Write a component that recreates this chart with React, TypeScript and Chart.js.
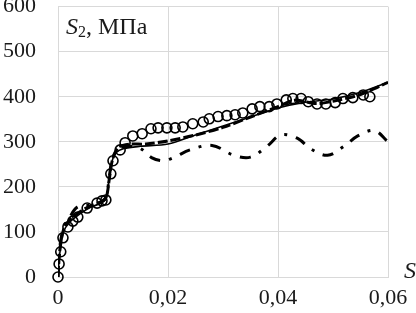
import { useEffect, useRef } from 'react';
import { Chart, registerables } from 'chart.js';

Chart.register(...registerables);

const xTicks = [0, 0.02, 0.04, 0.06];
const yTicks = [0, 100, 200, 300, 400, 500, 600];

// Experimental points (open circles)
const circleStrain = [0.0, 0.0002, 0.0005, 0.0009, 0.0018, 0.0027, 0.0036, 0.0053, 0.0071, 0.008, 0.0087, 0.0096, 0.0100, 0.0113, 0.0122, 0.0136, 0.0153, 0.0169, 0.0182, 0.0198, 0.0213, 0.0227, 0.0245, 0.0264, 0.0275, 0.0291, 0.0307, 0.0322, 0.0336, 0.0353, 0.0367, 0.0384, 0.0398, 0.0415, 0.0427, 0.0442, 0.0455, 0.0471, 0.0487, 0.0504, 0.0518, 0.0536, 0.0555, 0.0567];
const circleStress = [0, 29, 56, 87, 111, 124, 133, 153, 164, 169, 171, 229, 258, 282, 298, 313, 318, 329, 331, 331, 331, 333, 340, 344, 351, 356, 358, 360, 364, 373, 378, 378, 384, 393, 396, 396, 389, 384, 384, 387, 396, 398, 404, 400];

// Thin solid curve
const solidStrain = [0, 0.0003, 0.001, 0.002, 0.004, 0.006, 0.008, 0.0088, 0.0092, 0.0098, 0.0105, 0.012, 0.015, 0.02, 0.025, 0.03, 0.035, 0.04, 0.045, 0.05, 0.055, 0.06];
const solidStress = [0, 50, 100, 120, 140, 155, 165, 175, 210, 255, 275, 285, 290, 295, 315, 335, 355, 375, 388, 395, 410, 432];

// Bold dashed curve
const dashedStrain = [0, 0.0003, 0.001, 0.002, 0.004, 0.006, 0.008, 0.0088, 0.0093, 0.0099, 0.011, 0.013, 0.016, 0.02, 0.025, 0.03, 0.035, 0.04, 0.043, 0.047, 0.05, 0.055, 0.06];
const dashedStress = [0, 55, 105, 125, 145, 158, 167, 178, 215, 260, 288, 295, 295, 302, 315, 332, 355, 378, 392, 385, 390, 405, 432];

// Dash-dot curve
const dashDotStrain = [0, 0.0003, 0.001, 0.002, 0.0035, 0.006, 0.008, 0.0088, 0.0093, 0.0099, 0.011, 0.013, 0.015, 0.017, 0.019, 0.021, 0.024, 0.028, 0.032, 0.035, 0.038, 0.0405, 0.0435, 0.046, 0.049, 0.052, 0.0545, 0.0575, 0.06];
const dashDotStress = [0, 60, 110, 130, 155, 160, 168, 180, 220, 262, 285, 290, 285, 265, 258, 265, 282, 292, 270, 266, 290, 315, 308, 284, 270, 290, 313, 325, 300];

const toPoints = (xs: number[], ys: number[]) => xs.map((x, i) => ({ x, y: ys[i] }));

const fmtX = (v: number) => (v === 0 ? '0' : v.toFixed(2).replace('.', ','));

const FONT = '"Liberation Serif", "Times New Roman", serif';
const TEXT = '#1a1a1a';
const GRID = '#d9d9d9';

const titlePlugin = {
  id: 'titles',
  afterDraw(chart: any) {
    const { ctx, chartArea } = chart;
    ctx.save();
    ctx.fillStyle = TEXT;
    ctx.textBaseline = 'alphabetic';
    ctx.textAlign = 'left';
    let x = chartArea.left + 8;
    const y = chartArea.top + 27;
    ctx.font = `italic 24px ${FONT}`;
    ctx.fillText('S', x, y);
    x += ctx.measureText('S').width;
    ctx.font = `16px ${FONT}`;
    ctx.fillText('2', x, y + 3);
    x += ctx.measureText('2').width;
    ctx.font = `24px ${FONT}`;
    ctx.fillText(', МПа', x, y);
    ctx.font = `italic 24px ${FONT}`;
    ctx.fillText('S', chartArea.right + 16, chartArea.bottom + 1);
    ctx.restore();
  },
};

export default function App() {
  const ref = useRef<HTMLCanvasElement | null>(null);
  useEffect(() => {
    if (!ref.current) return;
    const chart = new Chart(ref.current, {
      type: 'scatter',
      data: {
        datasets: [
          {
            label: 'solid',
            data: toPoints(solidStrain, solidStress),
            showLine: true,
            borderColor: '#000',
            borderWidth: 1.6,
            pointRadius: 0,
            tension: 0.3,
          },
          {
            label: 'dashed',
            data: toPoints(dashedStrain, dashedStress),
            showLine: true,
            borderColor: '#000',
            borderWidth: 3,
            borderDash: [10, 3],
            pointRadius: 0,
            tension: 0.3,
          },
          {
            label: 'dashdot',
            data: toPoints(dashDotStrain, dashDotStress),
            showLine: true,
            borderColor: '#000',
            borderWidth: 3,
            borderDash: [11, 9, 3, 9],
            pointRadius: 0,
            tension: 0.35,
          },
          {
            label: 'exp',
            data: toPoints(circleStrain, circleStress),
            showLine: false,
            clip: false,
            pointStyle: 'circle',
            pointRadius: 5,
            pointBorderWidth: 1.6,
            pointBorderColor: '#000',
            pointBackgroundColor: 'rgba(0,0,0,0)',
          },
        ],
      },
      options: {
        animation: false,
        responsive: false,
        maintainAspectRatio: false,
        layout: { padding: { left: 0, right: 28, top: 6, bottom: 0 } },
        plugins: { legend: { display: false }, tooltip: { enabled: false } },
        scales: {
          x: {
            type: 'linear',
            min: 0,
            max: 0.06,
            afterBuildTicks: (s: any) => {
              s.ticks = xTicks.map((v) => ({ value: v }));
            },
            afterFit: (s: any) => {
              s.paddingLeft = 0;
              s.paddingRight = 0;
              s.height = 36;
            },
            grid: { color: GRID, lineWidth: 1, drawTicks: false },
            border: { color: GRID, width: 1 },
            ticks: {
              padding: 8,
              maxRotation: 0,
              autoSkip: false,
              color: TEXT,
              font: { family: FONT, size: 22 },
              callback: (v: any) => fmtX(Number(v)),
            },
          },
          y: {
            type: 'linear',
            min: 0,
            max: 600,
            afterBuildTicks: (s: any) => {
              s.ticks = yTicks.map((v) => ({ value: v }));
            },
            afterFit: (s: any) => {
              s.paddingTop = 0;
              s.paddingBottom = 0;
              s.width = 58;
            },
            grid: { color: GRID, lineWidth: 1, drawTicks: false },
            border: { color: GRID, width: 1 },
            ticks: {
              padding: 22,
              color: TEXT,
              font: { family: FONT, size: 22 },
              callback: (v: any) => String(v),
            },
          },
        },
      },
      plugins: [titlePlugin],
    });
    return () => chart.destroy();
  }, []);
  return (
    <div style={{ position: 'fixed', left: 0, top: 0, width: 416, height: 313, background: '#fff' }}>
      <canvas ref={ref} width={416} height={313} style={{ width: 416, height: 313 }} />
    </div>
  );
}
